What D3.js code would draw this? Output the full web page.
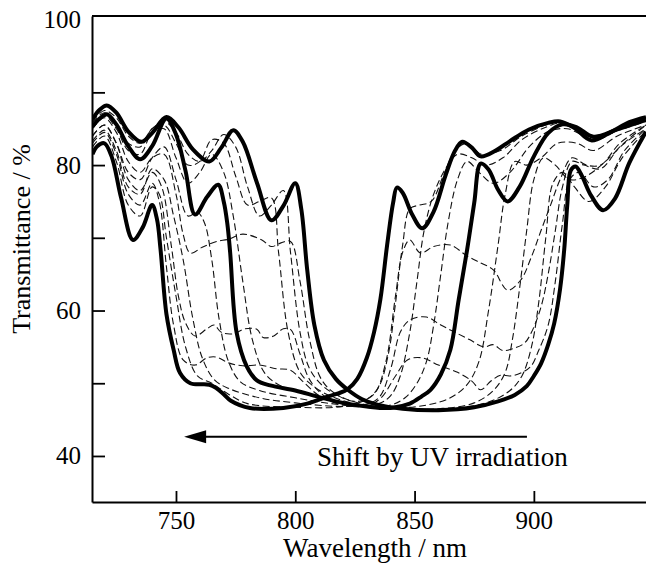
<!DOCTYPE html>
<html>
<head>
<meta charset="utf-8">
<script src="https://cdn.jsdelivr.net/npm/d3@7"></script>
<style>
body { margin: 0; background: #fff; }
svg text { font-family: "Liberation Serif", "Times New Roman", serif; }
</style>
</head>
<body>
<div id="chart"></div>
<script>
// spectra, [wavelength nm, transmittance %]
const curveInitial = [[715,86.3],[718,87.6],[721,88.2],[725,87.2],[730,84.6],[735.5,83.2],[740,84.4],[746,86.6],[751,85.2],[757,82.2],[764,80.5],[769,82.4],[774,84.8],[778,83.2],[784,77.5],[790,72.4],[795,74.4],[800,77.5],[802.5,74],[805,65.6],[808,58],[812,53.2],[817,50.6],[822,49.1],[828,47.8],[834,47.1],[845,46.5],[860,46.3],[875,46.7],[885,47.5],[892,48.4],[897,49.6],[900,51],[903,52.7],[906,55.3],[908.5,58.2],[911,63],[912.7,68.3],[914,74.5],[915.5,79.3],[917.5,79.8],[920,78.6],[924,75.8],[929,73.8],[934,75.4],[940,80.3],[947,84.6]];

const curveMiddle = [[715,85.3],[718,86.4],[721,87],[725,85.6],[730,82.6],[735,80.8],[740,82.6],[746,86.4],[750,84.2],[754,79.2],[758,73.2],[763,75.6],[767.7,77.3],[770,75],[771.5,72],[772.7,68],[775.4,57],[779.7,52.3],[783.9,50.4],[789.5,49.7],[800,49],[810,48.1],[820,47.3],[830,46.8],[840,46.6],[848,47.2],[853,48.2],[856.7,49.1],[861,51.2],[865,54.6],[868.5,61.5],[872,68.3],[875,74.8],[877.7,80.2],[881,79.4],[885,76.6],[889,75],[894,77],[900,81.2],[906,84.4],[912,85.6],[918,85.2],[925,83.9],[935,84.9],[947,86.2]];

const curveFinal = [[715,81.5],[717,82.6],[720,83],[723,81.2],[727,75.5],[732,69.7],[736,71.4],[740,74.5],[742,72.6],[743.5,68.5],[746,59.5],[749,54.6],[751.7,51.4],[756,50],[764,49.8],[767,49.3],[770,48.5],[773,47.6],[781,46.6],[795,46.6],[805,47.2],[812,48],[818,48.6],[822,49.2],[826,50.6],[830,53.5],[833,57],[835.7,61.6],[838.5,69],[841,74.8],[842.6,76.9],[845,76.2],[849,73.2],[853.2,71.3],[858,73.6],[863,78.6],[867,82],[870,83.2],[874,82.4],[877.7,81.2],[884,82],[890,83.3],[898,84.9],[906,85.8],[911,86],[917,85.1],[924,83.4],[932,84.5],[940,85.9],[947,86.6]];

// intermediate spectra (dashed)
const dashA = [[715,86],[720,87.5],[725,86.5],[730,84],[735,83],[740,85],[745,86],[750,84.5],[755,81.5],[760,80.5],[765,82],[770,84.2],[775,82.5],[780,77],[785,73],[790,74.5],[795,76.5],[798,68],[802,57],[806,52],[812,49.5],[820,48],[830,47],[840,46.6],[860,46.4],[880,47.3],[890,49],[895,51],[899,55],[902,61],[905,70],[908,77.5],[912,79],[917,77],[923,75],[930,77],[937,81],[947,84.7]];
const dashB = [[715,85.8],[720,87.2],[725,85.5],[730,83],[735,82.5],[740,85],[745,85.5],[750,83],[755,80],[760,80.5],[765,83.5],[770,83],[775,78.5],[780,74.5],[785,75],[790,75.5],[793,68],[797,57],[802,51.5],[808,49.5],[815,48.2],[825,47.2],[840,46.6],[860,46.5],[875,47.3],[883,49],[888,51.5],[891,56],[894,63],[897,71],[900,78],[904,81],[909,80],[915,78],[922,78.5],[930,80.5],[938,83],[947,85]];
const dashC = [[715,85.5],[720,86.8],[725,85],[730,82],[735,81.5],[740,84.5],[745,85],[750,81],[755,77.5],[760,79],[765,81.5],[770,79],[774,73],[778,64],[782,56],[787,51.5],[793,49.8],[805,48.5],[820,47.3],[840,46.6],[855,47],[865,48],[872,49.8],[877,53],[881,60],[885,69],[888,76],[892,80.5],[897,80],[903,81],[910,83],[918,83],[925,82],[935,84],[947,85.5]];
const dashD = [[715,84],[720,85.5],[725,83],[730,79],[735,78],[740,81],[745,82.5],[750,78],[755,73],[759,73.5],[762,72],[765,67],[768,59],[772,53],[777,50.2],[785,49],[800,48],[815,47.2],[830,46.8],[840,47],[846,48],[851,50],[855,53],[858,58],[861,65],[864,72],[868,78],[872,80.5],[877,79],[883,77.5],[890,79],[898,82.5],[906,84.6],[914,85],[922,84],[932,84.5],[947,86]];
const dashE = [[715,83.3],[720,84.8],[725,82],[730,77],[735,76],[740,79.5],[745,78],[749,73],[753,67],[757,59],[761,53.5],[766,50.5],[772,49.3],[785,48],[800,47.3],[820,46.8],[835,47.2],[840,48.3],[844,51],[848,57],[851,64],[854,71],[858,76],[863,79.5],[868,81.5],[874,81],[880,80],[887,81],[895,83.5],[905,85.2],[912,85.8],[920,84.5],[928,84],[937,85.3],[947,86.3]];
const dashF = [[715,82.5],[720,84],[725,80.5],[730,74.5],[735,73],[740,77],[743,76],[746,70],[750,62],[754,55],[759,51],[765,50],[772,48.5],[780,47.2],[800,46.7],[820,46.8],[830,47.8],[835,49.5],[839,54],[842,61],[845,69],[848,74],[852,74.5],[857,75],[862,78.5],[867,82],[872,83],[878,81.5],[886,82],[895,84],[905,85.5],[912,86],[920,84.5],[927,83.6],[936,85],[947,86.5]];
const dashG = [[715,85],[720,86.5],[725,84.5],[730,80.5],[735,79],[740,81],[745,81.5],[750,76],[753,70.5],[756,67.9],[761,68.7],[767,69.5],[772,69.8],[778,70.5],[786,69.7],[790,68.8],[794,69.3],[798,69.5],[802,64],[806,56],[811,50.5],[818,48.3],[826,47.5],[833,48.5],[838,53],[842,62],[845,68],[848,69.7],[852.5,67.9],[858,68.8],[865,69],[872,67.5],[878,66.5],[883,65.6],[889,62.8],[894.5,64.2],[899,67.4],[903,71],[907,74.5],[911,78],[916,81],[922,80],[928,80],[936,83],[947,85.5]];
const dashH = [[715,84],[720,85.5],[725,83],[730,78],[735,76.5],[740,79],[744,77],[748,69],[751,62],[754,58.3],[758,56.5],[763,57.5],[766,58],[769,57],[774,56.8],[779,57.5],[784,57.4],[786.5,56.3],[791,56.5],[795,57.5],[798,57.4],[802,54],[806,50.5],[812,48.3],[820,47.3],[828,47],[835,48],[840,52],[844,57],[848,58.7],[855,59.1],[861,58],[867,57],[873,56],[879,55],[883,55.3],[887,54.5],[891.6,54.8],[896,55.5],[899,57],[903,60.5],[906,65],[909,71],[912,77],[916,80.5],[921,80],[928,79.5],[936,82.5],[947,85.5]];
const dashI = [[715,83],[720,84.5],[725,81.5],[730,76],[735,74.5],[740,77.5],[743,75],[746,66],[749,58],[753,53.2],[758,52.5],[763,53.5],[767,53.6],[772,52.8],[778,52.4],[785,52.5],[792,52],[798,51.8],[803,50.3],[810,48.3],[820,47],[830,46.9],[836,48],[842,51],[847,53.2],[853,53.5],[860,52.5],[868,51.5],[874,50.3],[877.7,49.1],[882,50.3],[886,51.1],[890,51],[894.5,51.4],[898.7,52.3],[902,54.5],[906,58],[909,64],[912,72],[915,78],[919,79],[925,77],[931,78],[938,82],[947,85]];

const boldSeries = [curveInitial, curveMiddle, curveFinal];
const dashedSeries = [dashA, dashB, dashC, dashD, dashE, dashF, dashG, dashH, dashI];

const xTicks = [750, 800, 850, 900];
const yTicks = [40, 60, 80, 100];
const yMinorTicks = [50, 70, 90];

const width = 646;
const height = 564;
const margin = {top: 16, right: 0, bottom: 62, left: 92};
const fontFamily = '"Liberation Serif", "Times New Roman", serif';

const svg = d3.select("#chart")
    .append("svg")
    .attr("width", width)
    .attr("height", height);

const x = d3.scaleLinear().domain([714.8, 947]).range([margin.left, width - margin.right]);
const y = d3.scaleLinear().domain([33.67, 100.5]).range([height - margin.bottom, margin.top]);

svg.append("clipPath").attr("id", "plot-clip")
    .append("rect")
    .attr("x", margin.left).attr("y", margin.top)
    .attr("width", width - margin.left - margin.right)
    .attr("height", height - margin.top - margin.bottom);

const line = d3.line()
    .x(d => x(d[0]))
    .y(d => y(d[1]))
    .curve(d3.curveCatmullRom.alpha(0.5));

const plot = svg.append("g").attr("clip-path", "url(#plot-clip)");

// thin dashed spectra first, bold ones over them
plot.selectAll(".dashed")
    .data(dashedSeries)
    .join("path")
    .attr("class", "dashed")
    .attr("d", line)
    .attr("fill", "none")
    .attr("stroke", "#111")
    .attr("stroke-width", 1.1)
    .attr("stroke-dasharray", "7,3.5");

plot.selectAll(".bold")
    .data(boldSeries)
    .join("path")
    .attr("class", "bold")
    .attr("d", line)
    .attr("fill", "none")
    .attr("stroke", "#000")
    .attr("stroke-width", 4)
    .attr("stroke-linejoin", "round");

// axes, ticks point inward
const yAxis = svg.append("g")
    .attr("transform", `translate(${margin.left},0)`)
    .call(d3.axisLeft(y).tickValues(yTicks).tickSizeInner(-13).tickSizeOuter(0).tickPadding(11));

yAxis.selectAll(".tick").filter(d => d === 100).select("line").remove();

svg.append("g")
    .attr("transform", `translate(${margin.left},0)`)
    .call(d3.axisLeft(y).tickValues(yMinorTicks).tickSizeInner(-13).tickSizeOuter(0).tickFormat(""))
    .select(".domain").remove();

const xAxis = svg.append("g")
    .attr("transform", `translate(0,${height - margin.bottom})`)
    .call(d3.axisBottom(x).tickValues(xTicks).tickSizeInner(-11).tickSizeOuter(0).tickPadding(9));

svg.selectAll(".domain").attr("stroke", "#000").attr("stroke-width", 2);
svg.selectAll(".tick line").attr("stroke", "#000").attr("stroke-width", 1.8);
svg.selectAll(".tick text")
    .attr("font-family", fontFamily)
    .attr("font-size", 25)
    .attr("fill", "#000");

// top frame line
svg.append("line")
    .attr("x1", margin.left).attr("x2", width)
    .attr("y1", margin.top).attr("y2", margin.top)
    .attr("stroke", "#000").attr("stroke-width", 2);

// axis titles
svg.append("text")
    .attr("x", 375)
    .attr("y", 557)
    .attr("text-anchor", "middle")
    .attr("font-family", fontFamily)
    .attr("font-size", 27)
    .text("Wavelength / nm");

svg.append("text")
    .attr("transform", "translate(30,239) rotate(-90)")
    .attr("text-anchor", "middle")
    .attr("font-family", fontFamily)
    .attr("font-size", 26)
    .text("Transmittance / %");

// arrow + annotation
const arrowY = y(42.64);
const arrowStart = x(897.1);
const arrowTip = x(753.4);

svg.append("line")
    .attr("x1", arrowStart).attr("x2", arrowTip + 18)
    .attr("y1", arrowY).attr("y2", arrowY)
    .attr("stroke", "#000").attr("stroke-width", 1.8);

svg.append("path")
    .attr("d", `M${arrowTip},${arrowY} L${arrowTip + 22},${arrowY - 6.5} L${arrowTip + 22},${arrowY + 6.5} Z`)
    .attr("fill", "#000");

svg.append("text")
    .attr("x", x(809.1))
    .attr("y", y(38.6))
    .attr("font-family", fontFamily)
    .attr("font-size", 27)
    .text("Shift by UV irradiation");
</script>
</body>
</html>
